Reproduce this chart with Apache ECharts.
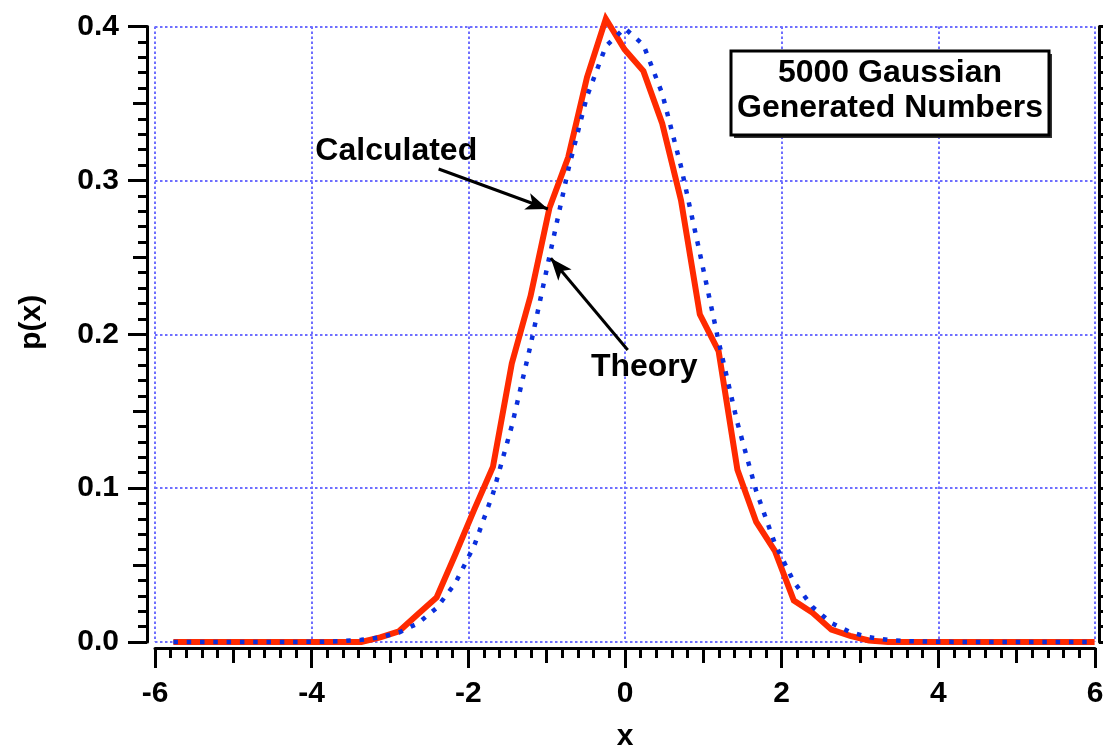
<!DOCTYPE html>
<html>
<head>
<meta charset="utf-8">
<script src="https://cdn.jsdelivr.net/npm/echarts@6/dist/echarts.min.js"></script>
<style>
  html, body { margin: 0; padding: 0; background: #fff; }
  #chart { width: 1103px; height: 747px; }
</style>
</head>
<body>
<div id="chart"></div>
<script>
// ---- data ----
const xValues = [
  -5.765, -5.525, -5.285, -5.045, -4.805, -4.565, -4.325, -4.085, -3.845, -3.605,
  -3.365, -3.125, -2.885, -2.645, -2.405, -2.165, -1.925, -1.685, -1.445, -1.205,
  -0.965, -0.725, -0.485, -0.245, -0.005, 0.235, 0.475, 0.715, 0.955, 1.195,
  1.435, 1.675, 1.915, 2.155, 2.395, 2.635, 2.875, 3.115, 3.355, 3.595,
  3.835, 4.075, 4.315, 4.555, 4.795, 5.035, 5.275, 5.515, 5.755, 5.995
];
const calculated = [
  0, 0, 0, 0, 0, 0, 0, 0, 0, 0,
  0, 0.003, 0.007, 0.018, 0.029, 0.057, 0.086, 0.114, 0.181, 0.225,
  0.282, 0.315, 0.367, 0.405, 0.385, 0.371, 0.337, 0.287, 0.213, 0.189,
  0.112, 0.078, 0.059, 0.027, 0.019, 0.008, 0.004, 0.001, 0, 0,
  0, 0, 0, 0, 0, 0, 0, 0, 0, 0
];
const theory = [
  0, 0, 0, 0, 0, 0.00001, 0.00003, 0.0001, 0.0002, 0.0006,
  0.0014, 0.0030, 0.0062, 0.0121, 0.0221, 0.0383, 0.0626, 0.0965, 0.1404, 0.1930,
  0.2504, 0.3068, 0.3547, 0.3871, 0.3989, 0.3881, 0.3564, 0.3090, 0.2528, 0.1954,
  0.1425, 0.0981, 0.0638, 0.0391, 0.0227, 0.0124, 0.0064, 0.0031, 0.0014, 0.0006,
  0.0003, 0.0001, 0.00004, 0.00001, 0, 0, 0, 0, 0, 0
];
const xAxisRange = [-6, 6];
const xMajorStep = 2;
const yAxisRange = [0, 0.4];
const yMajorStep = 0.1;
const boxLines = ['5000 Gaussian', 'Generated Numbers'];
const seriesNames = ['Calculated', 'Theory'];

// annotation anchors in data coordinates
const calcLabelAt = [-3.953, 0.3188];
const theoryLabelAt = [-0.435, 0.1784];
const calcArrow = [[-2.379, 0.3074], [-0.985, 0.2814]];
const theoryArrow = [[0.035, 0.1898], [-0.947, 0.2494]];

const FONT = '"Liberation Sans", Arial, Helvetica, sans-serif';
const BLACK = '#000';
const gridStyle = { color: '#6e6eff', width: 2, type: [2.5, 2.5] };
const tickStyle = { color: BLACK, width: 3 };

const chart = echarts.init(document.getElementById('chart'), null, { renderer: 'canvas' });

const calcData = xValues.map((x, i) => [x, calculated[i]]);
const theoryData = xValues.map((x, i) => [x, theory[i]]);

const arrowLine = (a) => [{ coord: a[0] }, { coord: a[1] }];

chart.setOption({
  animation: false,
  backgroundColor: '#fff',
  textStyle: { fontFamily: FONT },
  grid: { left: 155, right: 8, top: 26.5, bottom: 105, containLabel: false, outerBoundsMode: 'none' },
  xAxis: [
    {
      type: 'value', min: xAxisRange[0], max: xAxisRange[1], interval: xMajorStep,
      position: 'bottom', offset: 6,
      axisLine: { onZero: false, lineStyle: { color: BLACK, width: 3 } },
      axisTick: { length: 20, lineStyle: tickStyle },
      minorTick: { show: true, splitNumber: 10, length: 10, lineStyle: tickStyle },
      axisLabel: { fontSize: 30, fontWeight: 'bold', color: BLACK, fontFamily: FONT, margin: 31 },
      splitLine: { show: true, lineStyle: gridStyle },
      name: 'x', nameLocation: 'middle', nameGap: 74,
      nameTextStyle: { fontSize: 30, fontWeight: 'bold', color: BLACK, fontFamily: FONT }
    },
    {
      type: 'value', min: xAxisRange[0], max: xAxisRange[1], interval: xMajorStep / 2,
      position: 'bottom', offset: 6,
      axisLine: { show: false, onZero: false },
      axisTick: { length: 15, lineStyle: tickStyle },
      axisLabel: { show: false },
      splitLine: { show: false }
    }
  ],
  yAxis: [
    {
      type: 'value', min: yAxisRange[0], max: yAxisRange[1], interval: yMajorStep,
      position: 'left', offset: 8,
      axisLine: { show: true, onZero: false, lineStyle: { color: BLACK, width: 3 } },
      axisTick: { show: true, length: 19, lineStyle: tickStyle },
      minorTick: { show: true, splitNumber: 10, length: 9, lineStyle: tickStyle },
      axisLabel: { fontSize: 30, fontWeight: 'bold', color: BLACK, fontFamily: FONT, margin: 28,
                   formatter: (v) => v.toFixed(1) },
      splitLine: { show: true, lineStyle: gridStyle },
      name: 'p(x)', nameLocation: 'middle', nameGap: 100,
      nameTextStyle: { fontSize: 30, fontWeight: 'bold', color: BLACK, fontFamily: FONT, padding: [0, 0, 0, 24] }
    },
    {
      type: 'value', min: yAxisRange[0], max: yAxisRange[1], interval: yMajorStep / 2,
      position: 'left', offset: 8,
      axisLine: { show: false, onZero: false },
      axisTick: { show: true, length: 14, lineStyle: tickStyle },
      axisLabel: { show: false },
      splitLine: { show: false }
    },
    {
      type: 'value', min: yAxisRange[0], max: yAxisRange[1], interval: yMajorStep,
      position: 'right', offset: 4,
      axisLine: { show: true, onZero: false, lineStyle: { color: BLACK, width: 3 } },
      axisTick: { show: true, length: 19, lineStyle: tickStyle },
      minorTick: { show: true, splitNumber: 10, length: 9, lineStyle: tickStyle },
      axisLabel: { show: false },
      splitLine: { show: false }
    }
  ],
  series: [
    {
      name: seriesNames[0], type: 'line', data: calcData, xAxisIndex: 0, yAxisIndex: 0,
      showSymbol: false, symbol: 'none', clip: false, z: 3,
      lineStyle: { color: '#ff2a00', width: 6, join: 'miter', cap: 'butt' },
      markLine: {
        silent: true, animation: false,
        symbol: ['none', 'arrow'], symbolSize: [13, 22],
        label: { show: false },
        lineStyle: { color: BLACK, width: 3, type: 'solid' },
        data: [arrowLine(calcArrow), arrowLine(theoryArrow)]
      }
    },
    {
      name: seriesNames[1], type: 'line', data: theoryData, xAxisIndex: 0, yAxisIndex: 0,
      showSymbol: false, symbol: 'none', clip: false, z: 4,
      lineStyle: { color: '#0a2fdc', width: 4.5, type: [4.5, 8.8], cap: 'butt' }
    }
  ]
});

const px = (p) => chart.convertToPixel({ xAxisIndex: 0, yAxisIndex: 0 }, p);
const cl = px(calcLabelAt);
const tl = px(theoryLabelAt);
const annFont = { fontSize: 32, fontWeight: 'bold', fontFamily: FONT, fill: BLACK };

chart.setOption({
  graphic: [
    { type: 'text', x: cl[0], y: cl[1], z: 10,
      style: Object.assign({ text: seriesNames[0], align: 'left', verticalAlign: 'middle' }, annFont) },
    { type: 'text', x: tl[0], y: tl[1], z: 10,
      style: Object.assign({ text: seriesNames[1], align: 'left', verticalAlign: 'middle' }, annFont) },
    { type: 'rect', x: 734, y: 54, z: 10,
      shape: { width: 318, height: 84 }, style: { fill: '#333' } },
    { type: 'rect', x: 731, y: 51, z: 11,
      shape: { width: 318, height: 84 }, style: { fill: '#fff', stroke: BLACK, lineWidth: 3 } },
    { type: 'text', x: 890, y: 91, z: 12,
      style: Object.assign({ text: boxLines.join('\n'), align: 'center', verticalAlign: 'middle', lineHeight: 35 }, annFont) }
  ]
});
</script>
</body>
</html>
